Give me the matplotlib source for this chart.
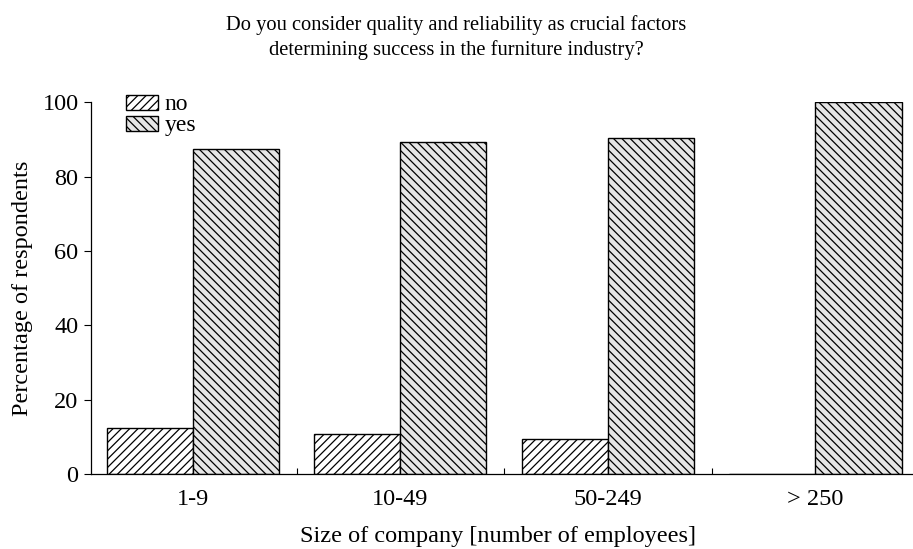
import numpy as np
import matplotlib.pyplot as plt
from matplotlib.ticker import FixedLocator
from matplotlib import font_manager

# Company size groups and answers (percent of respondents)
sizes = ['1-9', '10-49', '50-249', '> 250']
no_pct = [12.5, 10.7, 9.5, 0.0]
yes_pct = [87.5, 89.3, 90.5, 100.0]

names = {f.name for f in font_manager.fontManager.ttflist}
serif = [n for n in ['Liberation Serif', 'Times New Roman', 'STIXGeneral'] if n in names]
plt.rcParams['font.family'] = serif + ['DejaVu Serif']
plt.rcParams['hatch.linewidth'] = 0.9

fs = 17.5

fig = plt.figure(figsize=(9.13, 5.49), dpi=100)
ax = fig.add_axes([91 / 913, 1 - 474 / 549, 1 - 91 / 913, (474 - 102.3) / 549])

x = np.arange(len(sizes))
w = 0.415
ax.bar(x - w / 2, no_pct, width=w, color='white', edgecolor='black',
       hatch='////', linewidth=1.0, label='no')
ax.bar(x + w / 2, yes_pct, width=w, color='#e6e6e6', edgecolor='black',
       hatch='\\\\\\\\', linewidth=1.0, label='yes')

ax.set_xlim(-0.49, 3.47)
ax.set_ylim(0, 100)
ax.set_yticks([0, 20, 40, 60, 80, 100])
ax.set_xticks(x)
ax.set_xticklabels(sizes)
ax.xaxis.set_minor_locator(FixedLocator([0.5, 1.5, 2.5]))
ax.tick_params(axis='x', which='major', length=0, pad=11, labelsize=fs)
ax.tick_params(axis='x', which='minor', direction='in', length=4, width=0.8)
ax.tick_params(axis='y', direction='out', length=5, width=0.8, pad=4, labelsize=fs)

for s in ['top', 'right']:
    ax.spines[s].set_visible(False)
for s in ['left', 'bottom']:
    ax.spines[s].set_linewidth(0.9)

ax.set_ylabel('Percentage of respondents', fontsize=fs)
ax.yaxis.set_label_coords(-0.07, 0.5)
ax.set_xlabel('Size of company [number of employees]', fontsize=fs)
ax.xaxis.set_label_coords(0.495, -0.14)

fig.text(0.5, 1 - 15 / 549, 'Do you consider quality and reliability as crucial factors\n'
         'determining success in the furniture industry?',
         ha='center', va='top', fontsize=14.8, linespacing=1.35)

ax.legend(loc='upper left', bbox_to_anchor=(124 / 913, 1 - 92 / 549),
          bbox_transform=fig.transFigure, frameon=False, fontsize=17,
          handlelength=1.36, handleheight=0.6, handletextpad=0.25,
          labelspacing=0.0, borderpad=0.1, borderaxespad=0)

fig.savefig('out.png', dpi=100)
